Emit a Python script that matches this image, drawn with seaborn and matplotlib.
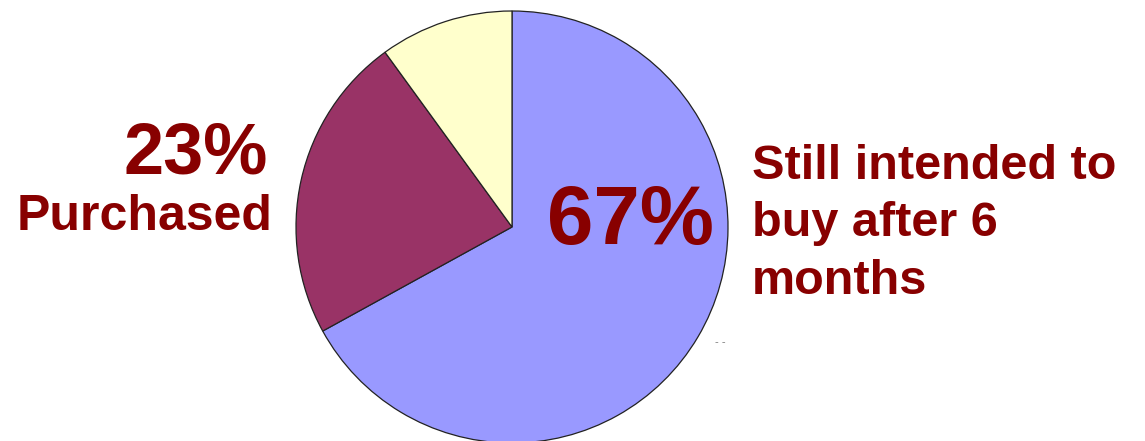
import matplotlib
matplotlib.use("Agg")
import matplotlib.pyplot as plt
import seaborn as sns

labels = ["Still intended to buy after 6 months", "Purchased", "Other"]
shares = [67, 23, 10]
colors = ["#9999FF", "#993366", "#FFFFCC"]

W, H = 1145, 441


def fx(px):
    return px / W


def fy(py):
    return 1 - py / H


def main():
    sns.set_theme(style="white")
    plt.rcParams['font.family'] = ['Liberation Sans', 'DejaVu Sans']

    fig = plt.figure(figsize=(W / 100, H / 100), dpi=100)
    fig.patch.set_facecolor("white")

    # pie circle: centre (512, 227) px, radius 216 px
    r, cx, cy = 216, 512, 227
    ax = fig.add_axes([fx(cx - r), fy(cy + r), 2 * r / W, 2 * r / H])
    wedges, _ = ax.pie(shares, colors=colors, startangle=90, counterclock=False,
                       wedgeprops=dict(edgecolor="#222222", linewidth=0.9))
    for w in wedges:
        w.set_clip_on(False)
    ax.set_xlim(-1, 1)
    ax.set_ylim(-1, 1)
    ax.set_aspect("equal")
    ax.axis("off")

    red = "#880000"
    fig.text(fx(630), fy(222), f"{shares[0]}%", color=red, fontsize=60,
             fontweight="bold", ha="center", va="center")
    fig.text(fx(268), fy(155), f"{shares[1]}%", color=red, fontsize=52,
             fontweight="bold", ha="right", va="center")
    fig.text(fx(273), fy(217), labels[1], color=red, fontsize=36,
             fontweight="bold", ha="right", va="center")
    fig.text(fx(752), fy(224), "Still intended to\nbuy after 6\nmonths", color=red,
             fontsize=35, fontweight="bold", ha="left", va="center", linespacing=1.36)
    fig.text(fx(720), fy(342), "- -", color="#777777", fontsize=8,
             ha="center", va="center")

    fig.savefig("out.png", dpi=100)


if __name__ == "__main__":
    main()
